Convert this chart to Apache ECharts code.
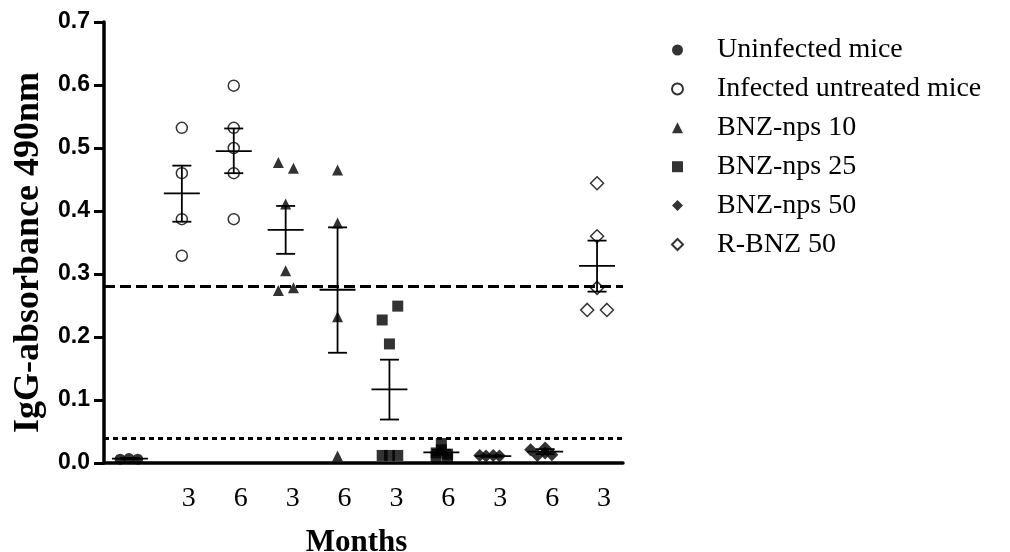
<!DOCTYPE html>
<html>
<head>
<meta charset="utf-8">
<script src="https://cdn.jsdelivr.net/npm/echarts@6/dist/echarts.min.js"></script>
<style>
  html, body { margin: 0; padding: 0; background: #fff; }
  #main { width: 1010px; height: 552px; }
</style>
</head>
<body>
<div id="main"></div>
<script>
// month labels under each group (first group = uninfected, no label)
var monthLabels = ['', '3', '6', '3', '6', '3', '6', '3', '6', '3'];

// points: [group position, IgG absorbance]
var uninfected = [[-0.19, 0.006], [-0.02, 0.007], [0.15, 0.006]];
var infectedUntreated = [
  [1, 0.532], [1, 0.460], [1, 0.387], [1, 0.329],
  [2, 0.599], [2, 0.532], [2, 0.500], [2, 0.460], [2, 0.387]
];
var bnz10 = [
  [2.86, 0.477], [3.15, 0.468], [3, 0.411], [3, 0.305], [2.86, 0.274], [3.15, 0.278],
  [4, 0.465], [4, 0.381], [4, 0.232], [4, 0.011]
];
var bnz25 = [
  [4.86, 0.227], [5.16, 0.249], [5, 0.189], [4.86, 0.012], [5, 0.012], [5.16, 0.012],
  [6, 0.031], [6, 0.021], [5.9, 0.016], [6.12, 0.014], [5.9, 0.010], [6.12, 0.009]
];
var bnz50 = [
  [6.74, 0.012], [6.86, 0.011], [7, 0.012], [7.12, 0.011],
  [7.72, 0.021], [7.85, 0.012], [8, 0.024], [8, 0.016], [8.13, 0.013]
];
var rbnz50 = [[9, 0.444], [9, 0.360], [9, 0.278], [8.81, 0.243], [9.19, 0.243]];

// mean +/- SEM per group: [group, mean, low, high]
var meanSem = [
  [0, 0.007, 0.006, 0.008],
  [1, 0.428, 0.383, 0.472],
  [2, 0.495, 0.460, 0.531],
  [3, 0.370, 0.332, 0.408],
  [4, 0.275, 0.175, 0.374],
  [5, 0.117, 0.069, 0.164],
  [6, 0.017, 0.013, 0.021],
  [7, 0.011, 0.010, 0.012],
  [8, 0.018, 0.014, 0.022],
  [9, 0.313, 0.272, 0.353]
];

var cutoffHigh = 0.28;
var cutoffLow = 0.039;

var myChart = echarts.init(document.getElementById('main'));

var filled = { color: '#000' };
var hollow = { color: '#fff', borderColor: '#000', borderWidth: 1.5 };

myChart.setOption({
  animation: false,
  grid: { left: 104, right: 387, top: 22, bottom: 89, outerBoundsMode: 'none', containLabel: false },
  legend: {
    orient: 'vertical',
    left: 666,
    top: 30,
    itemWidth: 11,
    itemHeight: 11,
    itemGap: 8.9,
    textStyle: { fontFamily: 'Liberation Serif', fontSize: 28, color: '#000', lineHeight: 30, padding: [0, 0, 0, 29] },
    data: ['Uninfected mice', 'Infected untreated mice', 'BNZ-nps 10', 'BNZ-nps 25', 'BNZ-nps 50', 'R-BNZ 50']
  },
  xAxis: [{
    type: 'category',
    data: monthLabels,
    name: 'Months',
    nameLocation: 'middle',
    nameGap: 64,
    nameTextStyle: { fontFamily: 'Liberation Serif', fontWeight: 'bold', fontSize: 31, color: '#000', padding: [0, 14, 0, 0] },
    axisLine: { lineStyle: { color: '#000', width: 3.5 } },
    axisTick: { alignWithLabel: true, length: 11, lineStyle: { color: '#000', width: 3 } },
    axisLabel: { fontFamily: 'Liberation Serif', fontSize: 28, color: '#000', margin: 22, padding: [0, 0, 0, 14] }
  }, {
    type: 'value',
    min: -0.5,
    max: 9.5,
    show: false,
    position: 'top'
  }],
  yAxis: {
    type: 'value',
    min: 0,
    max: 0.7,
    interval: 0.1,
    name: 'IgG-absorbance 490nm',
    nameLocation: 'middle',
    nameGap: 53,
    nameTextStyle: { fontFamily: 'Liberation Serif', fontWeight: 'bold', fontSize: 36, color: '#000', padding: [0, 20, 0, 0] },
    splitLine: { show: false },
    axisLine: { show: true, onZero: false, lineStyle: { color: '#000', width: 3.5 } },
    axisTick: { show: true, length: 10, lineStyle: { color: '#000', width: 3 } },
    axisLabel: {
      fontFamily: 'Liberation Sans', fontWeight: 'bold', fontSize: 23, color: '#000', margin: 14,
      formatter: function (v) { return v.toFixed(1); }
    }
  },
  series: [{
    name: 'Uninfected mice', type: 'scatter', xAxisIndex: 1, symbol: 'circle', symbolSize: 11,
    itemStyle: filled, data: uninfected,
    markLine: {
      silent: true, symbol: 'none', label: { show: false },
      data: [
        { yAxis: cutoffHigh, lineStyle: { color: '#000', width: 3, type: [11, 5] } },
        { yAxis: cutoffLow, lineStyle: { color: '#000', width: 3, type: [5, 4] } }
      ]
    }
  }, {
    name: 'Infected untreated mice', type: 'scatter', xAxisIndex: 1, symbol: 'circle', symbolSize: 11,
    itemStyle: hollow, data: infectedUntreated
  }, {
    name: 'BNZ-nps 10', type: 'scatter', xAxisIndex: 1, symbol: 'triangle', symbolSize: 11,
    itemStyle: filled, data: bnz10
  }, {
    name: 'BNZ-nps 25', type: 'scatter', xAxisIndex: 1, symbol: 'rect', symbolSize: 11,
    itemStyle: filled, data: bnz25
  }, {
    name: 'BNZ-nps 50', type: 'scatter', xAxisIndex: 1, symbol: 'diamond', symbolSize: 13,
    itemStyle: filled, data: bnz50
  }, {
    name: 'R-BNZ 50', type: 'scatter', xAxisIndex: 1, symbol: 'diamond', symbolSize: 13,
    itemStyle: hollow, data: rbnz50
  }, {
    name: 'mean', type: 'custom', xAxisIndex: 1, z: 5, data: meanSem,
    renderItem: function (params, api) {
      var x = api.value(0);
      var c = api.coord([x, api.value(1)]);
      var lo = api.coord([x, api.value(2)]);
      var hi = api.coord([x, api.value(3)]);
      var st = { stroke: '#000', lineWidth: 1.8 };
      return {
        type: 'group',
        children: [
          { type: 'line', shape: { x1: c[0], y1: hi[1], x2: c[0], y2: lo[1] }, style: st },
          { type: 'line', shape: { x1: c[0] - 9.5, y1: hi[1], x2: c[0] + 9.5, y2: hi[1] }, style: st },
          { type: 'line', shape: { x1: c[0] - 9.5, y1: lo[1], x2: c[0] + 9.5, y2: lo[1] }, style: st },
          { type: 'line', shape: { x1: c[0] - 18, y1: c[1], x2: c[0] + 18, y2: c[1] }, style: st }
        ]
      };
    }
  }]
});
</script>
</body>
</html>
